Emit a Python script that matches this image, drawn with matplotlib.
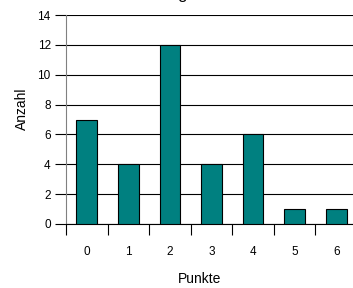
import numpy as np
import matplotlib
matplotlib.use("Agg")
import matplotlib.pyplot as plt

# data
punkte = [0, 1, 2, 3, 4, 5, 6]
anzahl = [7, 4, 12, 4, 6, 1, 1]
y_ticks = [0, 2, 4, 6, 8, 10, 12, 14]

plt.rcParams['font.family'] = ['Liberation Sans', 'DejaVu Sans']

fig = plt.figure(figsize=(3.53, 2.88), dpi=100)
ax = fig.add_axes([66 / 353, 1 - 224 / 288, 291 / 353, 209 / 288])

ax.bar(punkte, anzahl, width=0.5, color="#008080", edgecolor="black", linewidth=0.8, zorder=3)

ax.set_xlim(-0.5, 6.5)
ax.set_ylim(0, 14)
ax.set_yticks(y_ticks)
ax.yaxis.grid(True, color="black", linewidth=0.8, zorder=0)

# category ticks on the boundaries, labels in the middle
ax.set_xticks(punkte)
ax.set_xticks(np.arange(-0.5, 7, 1), minor=True)
ax.tick_params(axis="x", which="major", length=0, pad=16, labelsize=8.5)
ax.tick_params(axis="x", which="minor", length=8, width=0.8, direction="out")
ax.tick_params(axis="y", length=8, width=0.8, pad=3, labelsize=8.5)

for s in ["top", "right"]:
    ax.spines[s].set_visible(False)
ax.spines["left"].set_color("#808080")
ax.spines["bottom"].set_linewidth(0.8)

fig.text(200 / 353, 1 - 279 / 288, "Punkte", ha="center", va="center", fontsize=10)
fig.text(22 / 353, 1 - 109 / 288, "Anzahl", ha="center", va="center", rotation=90, fontsize=10)

# title is cut off at the top edge in the original
fig.text(185 / 353, 1 + 0.5 / 288, "Aufgabe", ha="center", va="baseline", fontsize=12)

fig.savefig("out.png", dpi=100)
